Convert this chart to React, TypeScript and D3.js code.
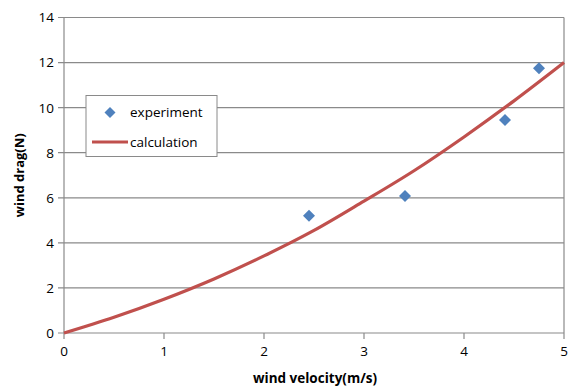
import React from "react";
import * as d3 from "d3";

const expX = [2.45, 3.41, 4.41, 4.75];
const expY = [5.2, 6.08, 9.45, 11.75];
const calcX = [0, 0.5, 1, 1.5, 2, 2.5, 3, 3.5, 4, 4.5, 5];
const calcY = [0, 0.7, 1.5, 2.4, 3.42, 4.55, 5.85, 7.2, 8.7, 10.3, 12];
const xTicks = [0, 1, 2, 3, 4, 5];
const yTicks = [0, 2, 4, 6, 8, 10, 12, 14];

const W = 575, H = 388;
const L = 64, R = 564, T = 17.5, B = 333;
const FONT = "'Open Sans', Lato, sans-serif";

export default function App() {
  const x = d3.scaleLinear().domain([0, 5]).range([L, R]);
  const y = d3.scaleLinear().domain([0, 14]).range([B, T]);
  const line = d3
    .line<number>()
    .x((_, i) => x(calcX[i]))
    .y((d) => y(d))
    .curve(d3.curveCatmullRom.alpha(0.5));
  const diamond = (cx: number, cy: number, r = 6) =>
    `M${cx},${cy - r}L${cx + r},${cy}L${cx},${cy + r}L${cx - r},${cy}Z`;
  const grid = "#8a8a8a";
  return (
    <svg width={W} height={H} style={{ position: "absolute", left: 0, top: 0 }} fontFamily={FONT}>
      <rect width={W} height={H} fill="#fff" />
      {yTicks.map((t) => (
        <g key={"y" + t}>
          <line x1={L - 6} x2={R} y1={y(t)} y2={y(t)} stroke={grid} strokeWidth={1.2} />
          <text x={L - 10} y={y(t)} dy="0.36em" textAnchor="end" fontSize={13.5} fill="#000">
            {t}
          </text>
        </g>
      ))}
      <line x1={L} x2={L} y1={T} y2={B} stroke={grid} strokeWidth={1.2} />
      <line x1={R} x2={R} y1={T} y2={B} stroke={grid} strokeWidth={1.2} />
      {xTicks.map((t) => (
        <g key={"x" + t}>
          <line x1={x(t)} x2={x(t)} y1={B} y2={B + 6} stroke={grid} strokeWidth={1.2} />
          <text x={x(t)} y={B + 23} textAnchor="middle" fontSize={13.5} fill="#000">
            {t}
          </text>
        </g>
      ))}
      <path d={line(calcY) || ""} fill="none" stroke="#C0504D" strokeWidth={3.2} />
      {expX.map((v, i) => (
        <path key={"p" + i} d={diamond(x(v), y(expY[i]))} fill="#4F81BD" />
      ))}
      <g>
        <rect x={86} y={95.5} width={131} height={61} fill="#fff" stroke="#8a8a8a" strokeWidth={1} />
        <path d={diamond(110, 112.5, 5.5)} fill="#4F81BD" />
        <text x={130} y={117} fontSize={13.5} fill="#000">experiment</text>
        <line x1={92} x2={128} y1={142} y2={142} stroke="#C0504D" strokeWidth={3.2} />
        <text x={130} y={146.5} fontSize={13.5} fill="#000">calculation</text>
      </g>
      <text x={315} y={383} textAnchor="middle" fontSize={13.5} fontWeight="bold" fill="#000">
        wind velocity(m/s)
      </text>
      <text
        transform={`translate(23.5,${(T + B) / 2}) rotate(-90)`}
        textAnchor="middle"
        fontSize={13}
        fontWeight="bold"
        fill="#000"
      >
        wind drag(N)
      </text>
    </svg>
  );
}
